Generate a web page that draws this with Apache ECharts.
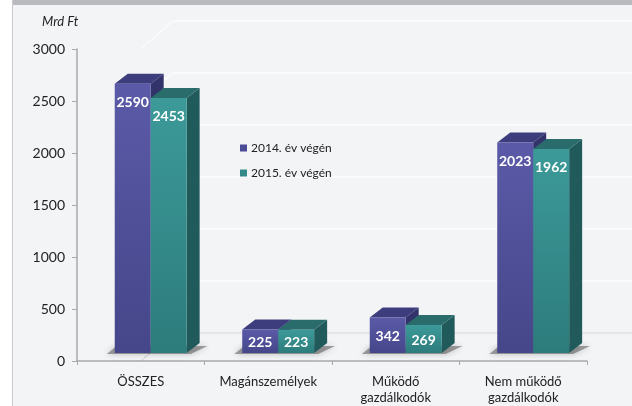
<!DOCTYPE html>
<html>
<head>
<meta charset="utf-8">
<script src="https://cdn.jsdelivr.net/npm/echarts@6/dist/echarts.min.js"></script>
<style>
  html, body { margin: 0; padding: 0; background: #ffffff; }
  #chart { width: 632px; height: 406px; }
</style>
</head>
<body>
<div id="chart"></div>
<script>
const categories = ['ÖSSZES', 'Magánszemélyek', 'Működő\ngazdálkodók', 'Nem működő\ngazdálkodók']
const values2014 = [2590, 225, 342, 2023]
const values2015 = [2453, 223, 269, 1962]
const yTicks = [0, 500, 1000, 1500, 2000, 2500, 3000]
const seriesNames = ['2014. év végén', '2015. év végén']

const FONT = 'Lato, "Noto Sans", sans-serif'
const DEPTH_X = 13
const DEPTH_Y = 10
const LIFT = 8

const palettes = [
  { front: ['#5a5aa8', '#46468a'], top: '#3d3d7e', side: '#33336c', legend: '#4c4c96' },
  { front: ['#3c9a99', '#2d7c7c'], top: '#2a6c6c', side: '#215a5a', legend: '#338a89' }
]

function barGeom(params, api, idx) {
  const cat = api.value(0)
  const val = api.value(1)
  const bw = api.size([1, 0])[0]
  const w = bw * 0.282
  const shift = bw * 0.078
  const base = api.coord([cat, 0])
  const x0 = base[0] + shift - w + idx * w
  const yb = base[1] - LIFT
  const yt = api.coord([cat, val])[1] - LIFT
  return { x0: x0, x1: x0 + w, yb: yb, yt: yt, w: w }
}

function renderBar(idx) {
  const pal = palettes[idx]
  return function (params, api) {
    const g = barGeom(params, api, idx)
    const h = g.yb - g.yt
    const labelY = g.yt + Math.min(19, h / 2 + 1)
    return {
      type: 'group',
      children: [
        {
          type: 'polygon',
          shape: { points: [[g.x1, g.yt], [g.x1 + DEPTH_X, g.yt - DEPTH_Y], [g.x1 + DEPTH_X, g.yb - DEPTH_Y], [g.x1, g.yb]] },
          style: { fill: pal.side }
        },
        {
          type: 'polygon',
          shape: { points: [[g.x0, g.yt], [g.x0 + DEPTH_X, g.yt - DEPTH_Y], [g.x1 + DEPTH_X, g.yt - DEPTH_Y], [g.x1, g.yt]] },
          style: { fill: pal.top }
        },
        {
          type: 'rect',
          shape: { x: g.x0, y: g.yt, width: g.w, height: h },
          style: {
            fill: new echarts.graphic.LinearGradient(0, 0, 0, 1, [
              { offset: 0, color: pal.front[0] },
              { offset: 1, color: pal.front[1] }
            ])
          }
        },
        {
          type: 'text',
          x: g.x0 + g.w / 2,
          y: labelY,
          style: {
            text: String(api.value(1)),
            fill: '#ffffff',
            font: 'bold 14px ' + FONT,
            align: 'center',
            verticalAlign: 'middle'
          }
        }
      ]
    }
  }
}

function renderShadow(params, api) {
  const g = barGeom(params, api, 0)
  const x2 = g.x1 + g.w
  return {
    type: 'polygon',
    shape: {
      points: [[g.x0 - 8, g.yb + 1], [x2 + 4, g.yb + 1], [x2 + DEPTH_X + 8, g.yb - DEPTH_Y + 3], [g.x0 + 2, g.yb - DEPTH_Y + 3]]
    },
    style: { fill: 'rgba(60,60,60,0.45)', shadowBlur: 6, shadowColor: 'rgba(0,0,0,0.5)' }
  }
}

const chart = echarts.init(document.getElementById('chart'))

chart.setOption({
  backgroundColor: '#ffffff',
  animation: false,
  title: {
    text: 'Mrd Ft',
    left: 37,
    top: 10,
    textStyle: { fontFamily: FONT, fontStyle: 'italic', fontWeight: 'normal', fontSize: 13, color: '#222' }
  },
  legend: {
    orient: 'vertical',
    left: 235,
    top: 137,
    itemWidth: 7,
    itemHeight: 7,
    itemGap: 13,
    icon: 'rect',
    data: seriesNames,
    textStyle: { fontFamily: FONT, fontSize: 12, color: '#222', padding: [0, 0, 0, -1] }
  },
  grid: { left: 77, right: 45, top: 49, bottom: 45 },
  xAxis: {
    type: 'category',
    data: categories,
    axisLine: { lineStyle: { color: '#a8a8a8', width: 1.5 } },
    axisTick: { show: true, length: 4, lineStyle: { color: '#a8a8a8' } },
    axisLabel: { color: '#222', fontFamily: FONT, fontSize: 13, margin: 13, lineHeight: 16 }
  },
  yAxis: {
    type: 'value',
    min: 0,
    max: 3000,
    interval: 500,
    axisLine: { show: true, lineStyle: { color: '#a8a8a8', width: 1.5 } },
    axisTick: { show: true, length: 5, lineStyle: { color: '#a8a8a8' } },
    splitLine: { show: false },
    axisLabel: { color: '#222', fontFamily: FONT, fontSize: 14, margin: 12, formatter: v => String(v) }
  },
  series: [
    {
      type: 'custom',
      name: 'shadow',
      renderItem: renderShadow,
      data: values2014.map((v, i) => [i, v]),
      silent: true,
      z: 1
    },
    {
      type: 'custom',
      name: seriesNames[0],
      renderItem: renderBar(0),
      itemStyle: { color: palettes[0].legend },
      data: values2014.map((v, i) => [i, v]),
      z: 2
    },
    {
      type: 'custom',
      name: seriesNames[1],
      renderItem: renderBar(1),
      itemStyle: { color: palettes[1].legend },
      data: values2015.map((v, i) => [i, v]),
      z: 3
    }
  ]
})

// frame, back walls and floor drawn from axis positions
const x0 = chart.convertToPixel({ xAxisIndex: 0 }, -0.5)
const x1 = chart.convertToPixel({ xAxisIndex: 0 }, categories.length - 0.5)
const floorDX = 32
const floorDY = 28
const elements = [
  { type: 'rect', z: -10, shape: { x: 12, y: 5, width: 620, height: 401 }, style: { fill: '#f3f4f6' } },
  { type: 'rect', z: -9, shape: { x: 12, y: 0, width: 620, height: 5 }, style: { fill: '#b9babd' } },
  { type: 'line', z: -9, shape: { x1: 12.5, y1: 0, x2: 12.5, y2: 406 }, style: { stroke: '#c9c9cb', lineWidth: 1 } }
]
yTicks.forEach(function (t) {
  const y = chart.convertToPixel({ yAxisIndex: 0 }, t)
  const isFloor = t === 0
  elements.push({
    type: 'polyline', z: -5,
    shape: { points: [[x0, y], [x0 + floorDX, y - floorDY], [x1 + floorDX, y - floorDY]] },
    style: { stroke: isFloor ? '#d6d7da' : '#fbfbfc', lineWidth: isFloor ? 1 : 1.5, fill: null }
  })
})
const y0 = chart.convertToPixel({ yAxisIndex: 0 }, 0)
elements.push({
  type: 'line', z: -4,
  shape: { x1: x0, y1: y0, x2: x0 + floorDX, y2: y0 - floorDY },
  style: { stroke: '#c4c5c8', lineWidth: 1, lineDash: [2, 3] }
})
elements.push({
  type: 'line', z: -4,
  shape: { x1: x1, y1: y0, x2: x1 + floorDX, y2: y0 - floorDY },
  style: { stroke: '#a8a8a8', lineWidth: 1 }
})
chart.setOption({ graphic: { elements: elements } })
</script>
</body>
</html>
